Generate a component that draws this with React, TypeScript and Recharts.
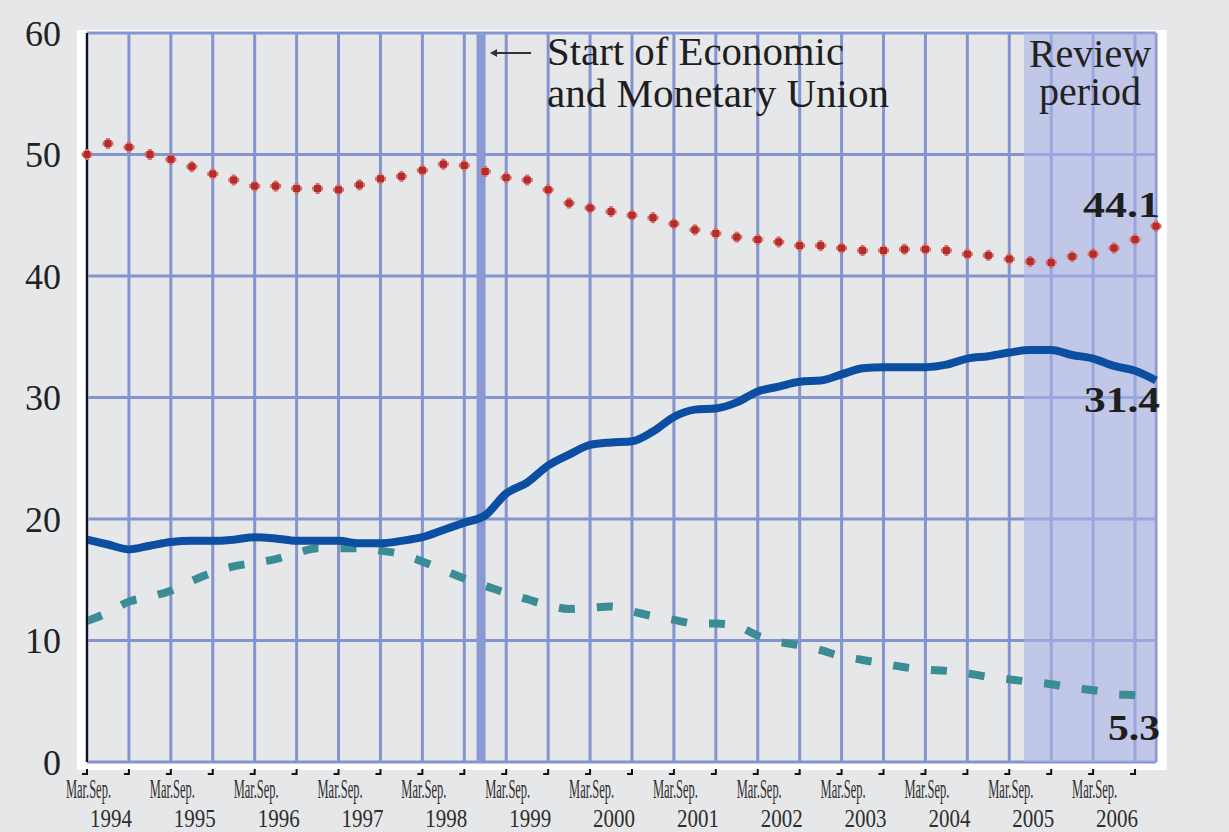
import React from 'react'
import { LineChart, Line, XAxis, YAxis, CartesianGrid, ReferenceArea, ReferenceLine, LabelList } from 'recharts'

// quarterly readings, Mar 1994 .. Dec 2006
const dottedSeries = [
  50.0, 50.9, 50.6, 50.0, 49.6, 49.0, 48.4, 47.9, 47.4, 47.4,
  47.2, 47.2, 47.1, 47.5, 48.0, 48.2, 48.7, 49.2, 49.1, 48.6,
  48.1, 47.9, 47.1, 46.0, 45.6, 45.3, 45.0, 44.8, 44.3, 43.8,
  43.5, 43.2, 43.0, 42.8, 42.5, 42.5, 42.3, 42.1, 42.1, 42.2,
  42.2, 42.1, 41.8, 41.7, 41.4, 41.2, 41.1, 41.6, 41.8, 42.3,
  43.0, 44.1,
]
const solidSeries = [
  18.3, 17.9, 17.5, 17.8, 18.1, 18.2, 18.2, 18.3, 18.5, 18.4,
  18.2, 18.2, 18.2, 18.0, 18.0, 18.2, 18.5, 19.1, 19.7, 20.3,
  22.1, 23.0, 24.4, 25.3, 26.1, 26.3, 26.4, 27.2, 28.4, 29.0,
  29.1, 29.6, 30.5, 30.9, 31.3, 31.4, 31.9, 32.4, 32.5, 32.5,
  32.5, 32.7, 33.2, 33.4, 33.7, 33.9, 33.9, 33.5, 33.2, 32.6,
  32.2, 31.4,
]
const dashedSeries = [
  11.6, 12.3, 13.2, 13.6, 14.1, 14.9, 15.6, 16.1, 16.4, 16.7,
  17.2, 17.6, 17.6, 17.6, 17.4, 17.1, 16.5, 15.8, 15.1, 14.5,
  13.9, 13.4, 12.9, 12.6, 12.7, 12.8, 12.4, 12.0, 11.7, 11.4,
  11.4, 11.2, 10.4, 9.9, 9.6, 9.2, 8.7, 8.4, 8.1, 7.8,
  7.6, 7.5, 7.3, 7.0, 6.8, 6.6, 6.4, 6.1, 5.9, 5.6,
  5.5, 5.3,
]

const YEARS = [1994, 1995, 1996, 1997, 1998, 1999, 2000, 2001, 2002, 2003, 2004, 2005, 2006]
const HALF_LABELS = ['Mar.', 'Sep.']
const X_TICKS = [0, 2, 4, 6, 8, 10, 12, 14, 16, 18, 20, 22, 24, 26, 28, 30, 32, 34, 36, 38, 40, 42, 44, 46, 48, 50]
const Y_TICKS = [0, 10, 20, 30, 40, 50, 60]
const EMU_START = 18.8
const REVIEW_START = 44.7
const LAST = dottedSeries.length - 1

const data = dottedSeries.map((v, i) => ({
  q: i,
  dotted: v,
  solid: solidSeries[i],
  dashed: dashedSeries[i],
}))

const SERIF = '"Liberation Serif", "Times New Roman", serif'
const BG = '#e6e7e9'
const GRID = '#8494d0'
const INK = '#1e1e1e'

function XTick({ x, y, payload }: any) {
  const q = payload.value
  const isMar = q % 4 === 0
  return (
    <g>
      <line x1={x} x2={x} y1={y + 7} y2={y + 13} stroke="#111" strokeWidth={2} />
      <line x1={x - 5} x2={x} y1={y + 12} y2={y + 12} stroke="#111" strokeWidth={2} />
      {isMar && (
        <g fill="#2e2e2e" fontFamily={SERIF} textAnchor="middle">
          <text x={x + 1.5} y={y + 36} fontSize={27} textLength={45} lengthAdjust="spacingAndGlyphs">
            {HALF_LABELS.join('')}
          </text>
          <text x={x + 24} y={y + 65} fontSize={25} textLength={42} lengthAdjust="spacingAndGlyphs">{YEARS[q / 4]}</text>
        </g>
      )}
    </g>
  )
}

function CrossDot({ cx, cy }: any) {
  if (cx == null || cy == null) return null
  return (
    <g>
      <rect x={cx - 5.5} y={cy - 2} width={11} height={4} fill="#d6706d" />
      <rect x={cx - 2} y={cy - 5.5} width={4} height={11} fill="#d6706d" />
      <rect x={cx - 3.5} y={cy - 3.5} width={7} height={7} fill="#b52c2a" />
    </g>
  )
}

const endLabel = (dy: number, len: number) => (props: any) => {
  if (props.index !== LAST) return null
  const vb = props.viewBox || {}
  const x = props.x ?? vb.x
  const y = props.y ?? vb.y
  return (
    <text x={x + 4} y={y + dy} textAnchor="end" fontFamily={SERIF} fontWeight="bold" fontSize={35}
      fill={INK} textLength={len} lengthAdjust="spacingAndGlyphs">
      {props.value}
    </text>
  )
}

function EmuNote(props: any) {
  const x = props.viewBox?.x ?? 0
  return (
    <g fontFamily={SERIF} fill={INK}>
      <line x1={x + 10} x2={x + 50} y1={53} y2={53} stroke="#333" strokeWidth={2} />
      <path d={`M${x + 9},53 l7,-4 l0,8 z`} fill="#333" />
      <text x={x + 66} y={65} fontSize={40} textLength={297} lengthAdjust="spacingAndGlyphs">Start of Economic</text>
      <text x={x + 66} y={107} fontSize={40} textLength={342} lengthAdjust="spacingAndGlyphs">and Monetary Union</text>
    </g>
  )
}

function ReviewNote(props: any) {
  const vb = props.viewBox || {}
  const cx = (vb.x ?? 0) + (vb.width ?? 0) / 2
  return (
    <g fontFamily={SERIF} fill="#222" textAnchor="middle">
      <text x={cx} y={67} fontSize={40}>Review</text>
      <text x={cx} y={105} fontSize={40}>period</text>
    </g>
  )
}

export default function App() {
  return (
    <div style={{ position: 'absolute', left: 0, top: 0, width: 1229, height: 832, background: BG, overflow: 'hidden' }}>
      <div style={{ position: 'absolute', left: 77, top: 30, width: 1090, height: 740, background: '#ffffff' }} />
      <div style={{ position: 'absolute', left: 0, top: 0 }}>
        <LineChart width={1229} height={832} data={data} margin={{ top: 33, right: 0, bottom: 0, left: 0 }}>
          <CartesianGrid yAxisId="left" stroke={GRID} strokeWidth={3} fill={BG} fillOpacity={1} />
          <XAxis dataKey="q" type="number" domain={[0, LAST]} ticks={X_TICKS} interval={0}
            height={70} tickSize={0} tickMargin={0} axisLine={false} tickLine={false} tick={XTick} />
          <YAxis yAxisId="left" domain={[0, 60]} ticks={Y_TICKS} width={87} tickSize={0} tickMargin={26}
            axisLine={{ stroke: '#111', strokeWidth: 2 }} tickLine={false}
            tick={{ fontSize: 36, fill: '#222', fontFamily: SERIF }} />
          <YAxis yAxisId="right" orientation="right" domain={[0, 60]} ticks={Y_TICKS} width={73} tickSize={0} tickMargin={26}
            axisLine={false} tickLine={false}
            tick={{ fontSize: 36, fill: '#222', fontFamily: SERIF, textAnchor: 'start' }} />
          <ReferenceArea yAxisId="left" x1={REVIEW_START} x2={LAST} y1={0} y2={60}
            fill="#a9b2e6" fillOpacity={0.6} stroke="none" label={(p: any) => <ReviewNote {...p} />} />
          <ReferenceLine yAxisId="left" x={EMU_START} stroke="#8b99d2" strokeWidth={9}
            label={(p: any) => <EmuNote {...p} />} />
          <Line yAxisId="left" type="monotone" dataKey="dashed" stroke="#3c8c95" strokeWidth={8}
            strokeDasharray="16 22" dot={false} activeDot={false} isAnimationActive={false}>
            <LabelList dataKey="dashed" content={endLabel(42, 52)} />
          </Line>
          <Line yAxisId="left" type="monotone" dataKey="solid" stroke="#0b4ea2" strokeWidth={8}
            dot={false} activeDot={false} isAnimationActive={false}>
            <LabelList dataKey="solid" content={endLabel(32, 76)} />
          </Line>
          <Line yAxisId="left" type="linear" dataKey="dotted" stroke="none"
            dot={(p: any) => <CrossDot key={p.index} {...p} />} activeDot={false} isAnimationActive={false}>
            <LabelList dataKey="dotted" content={endLabel(-9, 77)} />
          </Line>
        </LineChart>
      </div>
    </div>
  )
}
